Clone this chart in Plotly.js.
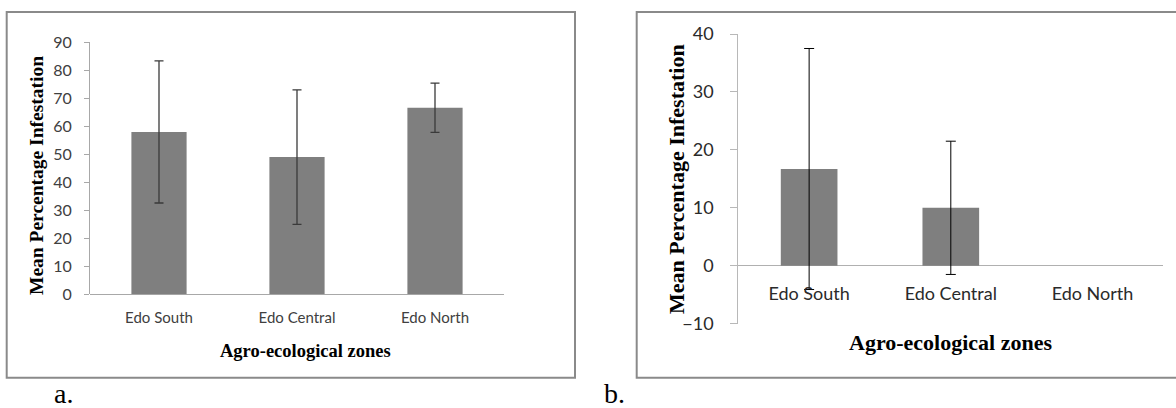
<!DOCTYPE html>
<html><head><meta charset="utf-8">
<script src="https://cdn.plot.ly/plotly-3.0.1.min.js"></script>
<style>html,body{margin:0;padding:0;background:#fff;}#chart{width:1176px;height:408px;}</style>
</head><body><div id="chart"></div>
<script>
// ---- data ----
const zones = ["Edo South", "Edo Central", "Edo North"];
const meanA = [58.0, 49.0, 66.6];
const errA = [25.4, 24.0, 8.8];
const meanB = [16.7, 10.0, 0];
const errB = [20.8, 11.5, NaN];   // no error bar shown for Edo North
const ticksA = [0, 10, 20, 30, 40, 50, 60, 70, 80, 90];
const ticksB = [-10, 0, 10, 20, 30, 40];
const yTitle = "Mean Percentage Infestation";
const xTitle = "Agro-ecological zones";
const panelLabels = ["a.", "b."];

const W = 1176, H = 408;
const px = v => v / W;
const py = v => (H - v) / H;

const barColor = "#7f7f7f";
const tickFont = "Lato, 'Open Sans', sans-serif";
const serif = "'Liberation Serif', 'Times New Roman', serif";

const traces = [
  {type: "bar", x: zones, y: meanA, xaxis: "x", yaxis: "y",
   marker: {color: barColor}, width: 0.4,
   error_y: {type: "data", array: errA, visible: true, color: "#3a3a3a", thickness: 1.3, width: 4.5},
   hoverinfo: "x+y"},
  {type: "bar", x: zones, y: meanB, xaxis: "x2", yaxis: "y2",
   marker: {color: barColor}, width: 0.4,
   error_y: {type: "data", array: errB, visible: true, color: "#000000", thickness: 1, width: 5},
   hoverinfo: "x+y"}
];

const layout = {
  width: W, height: H,
  margin: {l: 0, r: 0, t: 0, b: 0},
  paper_bgcolor: "#fff", plot_bgcolor: "rgba(0,0,0,0)",
  showlegend: false,
  xaxis: {domain: [px(90), px(504)], anchor: "y", showline: false, showgrid: false, zeroline: false,
          ticks: "", tickfont: {family: tickFont, size: 15, color: "#404040"}, ticklabelstandoff: 13, fixedrange: true},
  yaxis: {domain: [py(294.3), py(42.3)], anchor: "x", range: [0, 90], tickvals: ticksA,
          showline: true, linecolor: "#a8a8a8", linewidth: 1, showgrid: false,
          zeroline: true, zerolinecolor: "#a8a8a8", zerolinewidth: 1,
          ticks: "outside", ticklen: 5, tickcolor: "#a8a8a8", ticklabelstandoff: 9,
          tickfont: {family: tickFont, size: 16, color: "#404040"}, fixedrange: true},
  xaxis2: {domain: [px(738.3), px(1163.3)], anchor: "free", position: py(265.7),
           showline: false, showgrid: false, zeroline: false, ticks: "",
           tickfont: {family: tickFont, size: 18, color: "#2a2a2a"}, ticklabelstandoff: 15, fixedrange: true},
  yaxis2: {domain: [py(323.7), py(34)], anchor: "x2", range: [-10, 40], tickvals: ticksB,
           showline: true, linecolor: "#b8b8b8", linewidth: 1, showgrid: false,
           zeroline: true, zerolinecolor: "#b0b0b0", zerolinewidth: 1.3,
           ticks: "outside", ticklen: 7, tickcolor: "#b8b8b8", ticklabelstandoff: 13,
           tickfont: {family: tickFont, size: 18, color: "#2a2a2a"}, fixedrange: true},
  shapes: [
    {type: "rect", xref: "paper", yref: "paper", x0: px(6.7), x1: px(575), y0: py(377.7), y1: py(12),
     line: {color: "#8a8a8a", width: 2}, fillcolor: "rgba(0,0,0,0)", layer: "below"},
    {type: "rect", xref: "paper", yref: "paper", x0: px(636.7), x1: px(1190), y0: py(377.7), y1: py(12),
     line: {color: "#8a8a8a", width: 2}, fillcolor: "rgba(0,0,0,0)", layer: "below"}
  ],
  annotations: [
    {text: "<b>" + yTitle + "</b>", xref: "paper", yref: "paper", x: px(36), y: py(176), textangle: -90,
     showarrow: false, xanchor: "center", yanchor: "middle", font: {family: serif, size: 19.5, color: "#000"}},
    {text: "<b>" + xTitle + "</b>", xref: "paper", yref: "paper", x: px(305), y: py(351),
     showarrow: false, xanchor: "center", yanchor: "middle", font: {family: serif, size: 18.5, color: "#000"}},
    {text: "<b>" + yTitle + "</b>", xref: "paper", yref: "paper", x: px(676), y: py(179), textangle: -90,
     showarrow: false, xanchor: "center", yanchor: "middle", font: {family: serif, size: 22, color: "#000"}},
    {text: "<b>" + xTitle + "</b>", xref: "paper", yref: "paper", x: px(950.5), y: py(342),
     showarrow: false, xanchor: "center", yanchor: "middle", font: {family: serif, size: 22, color: "#000"}},
    {text: panelLabels[0], xref: "paper", yref: "paper", x: px(52), y: 0, yshift: -3, showarrow: false,
     xanchor: "left", yanchor: "bottom", font: {family: serif, size: 28, color: "#000"}},
    {text: panelLabels[1], xref: "paper", yref: "paper", x: px(602), y: 0, yshift: -3, showarrow: false,
     xanchor: "left", yanchor: "bottom", font: {family: serif, size: 28, color: "#000"}}
  ]
};

Plotly.newPlot("chart", traces, layout, {displayModeBar: false, staticPlot: true});
</script>
</body></html>
